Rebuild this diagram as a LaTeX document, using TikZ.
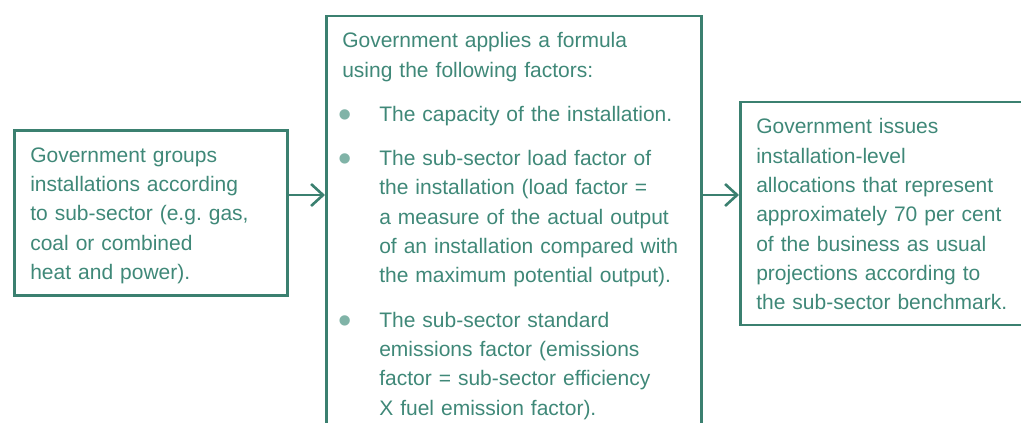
\documentclass[tikz,border=0pt]{standalone}
\usepackage{fontspec}
\setmainfont{Liberation Sans}
\usetikzlibrary{arrows.meta}

\definecolor{boxteal}{HTML}{3B8070}
\definecolor{textteal}{HTML}{3F8878}
\definecolor{dotteal}{HTML}{80B3A7}

\newcommand{\dotmark}{{\fontsize{38}{38}\selectfont\textcolor{dotteal}{\raisebox{-6pt}{\textbullet}}}}
\newcommand{\factor}[1]{\par\vspace{15pt}\leftskip=37pt\noindent\llap{\makebox[37pt][l]{\hspace{-3.6pt}\dotmark}}#1\par}

\begin{document}
\begin{tikzpicture}[x=1pt, y=-1pt,
   stage/.style={rectangle, draw=boxteal, line width=2.6pt, anchor=north west,
      inner xsep=16pt, inner ysep=0pt, text height=32pt, align=left,
      text=textteal, font=\fontsize{21}{29.3}\selectfont\frenchspacing},
   flow/.style={-{Straight Barb[length=12pt, width=22pt]}, draw=boxteal, line width=2.6pt}]
\useasboundingbox (0,0) rectangle (1021,423);
\clip (0,0) rectangle (1021,423);

\node[stage, text width=241pt, text depth=133pt] (grp) at (13,129)
   {Government groups\\ installations according\\ to sub-sector (e.g. gas,\\ coal or combined\\ heat and power).};
\node[stage, text width=343pt, text depth=430pt] (fml) at (325,14.5)
   {Government applies a formula\\ using the following factors:
    \factor{The capacity of the installation.}
    \factor{The sub-sector load factor of\\ the installation (load factor =\\ a measure of the actual output\\ of an installation compared with\\ the maximum potential output).}
    \factor{The sub-sector standard\\ emissions factor (emissions\\ factor = sub-sector efficiency\\ X fuel emission factor).}};
\node[stage, text width=320pt, text depth=191pt] (alloc) at (739,100.5)
   {Government issues\\ installation-level\\ allocations that represent\\ approximately 70 per cent\\ of the business as usual\\ projections according to\\ the sub-sector benchmark.};
\coordinate (lvl) at (0,195);

\path
    (grp.east |- lvl) edge[flow] (fml.west |- lvl)
    (fml.east |- lvl) edge[flow] (alloc.west |- lvl)
;

\end{tikzpicture}
\end{document}
